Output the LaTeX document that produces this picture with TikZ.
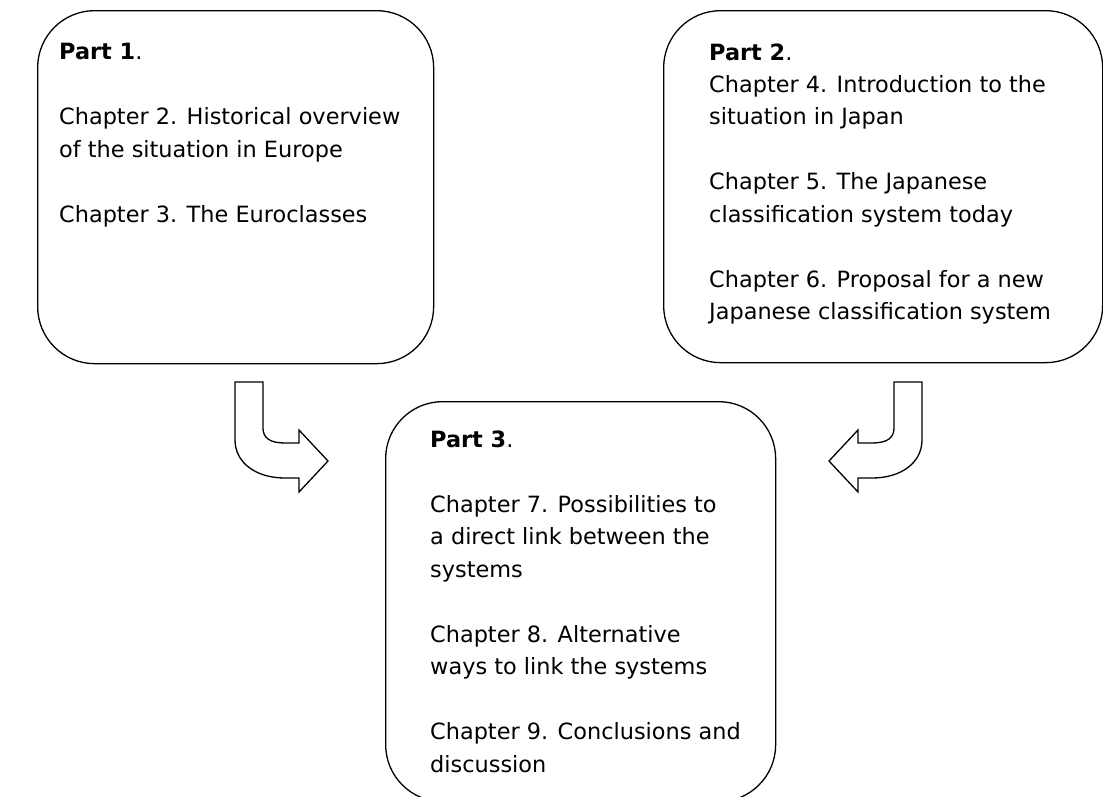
\documentclass[tikz,border=0pt]{standalone}
\usepackage{fontspec}
\setmainfont{DejaVu Sans}
\begin{document}
\begin{tikzpicture}[x=1pt,y=-1pt,
  box/.style={draw=black, line width=1.3pt, rounded corners=57pt, inner sep=0pt, anchor=north west},
  txt/.style={anchor=base west, inner sep=0pt, font=\fontsize{22.4}{26}\selectfont},
  uarrow/.style={draw=black, line width=1.3pt, line join=miter, fill=white}]
\useasboundingbox (0,0) rectangle (1103,796);
\clip (0,0) rectangle (1103,796);
% boxes
\node[box, minimum width=396pt, minimum height=353pt] (part1) at (37,10) {};
\node[box, minimum width=439pt, minimum height=352pt] (part2) at (663,10) {};
\node[box, minimum width=390pt, minimum height=400pt] (part3) at (385,401) {};
% box 1 text
\node[txt] (t1a) at (59,59) {\textbf{Part 1}.};
\node[txt] (t1b) at (59,124) {Chapter 2. Historical overview};
\node[txt] (t1c) at (59,157) {of the situation in Europe};
\node[txt] (t1d) at (59,222) {Chapter 3. The Euroclasses};
% box 2 text
\node[txt] (t2a) at (709,60) {\textbf{Part 2}.};
\node[txt] (t2b) at (709,92) {Chapter 4. Introduction to the};
\node[txt] (t2c) at (709,124) {situation in Japan};
\node[txt] (t2d) at (709,189) {Chapter 5. The Japanese};
\node[txt] (t2e) at (709,222) {classification system today};
\node[txt] (t2f) at (709,287) {Chapter 6. Proposal for a new};
\node[txt] (t2g) at (709,319) {Japanese classification system};
% box 3 text
\node[txt] (t3a) at (430,447) {\textbf{Part 3}.};
\node[txt] (t3b) at (430,512) {Chapter 7. Possibilities to};
\node[txt] (t3c) at (430,544) {a direct link between the};
\node[txt] (t3d) at (430,577) {systems};
\node[txt] (t3e) at (430,642) {Chapter 8. Alternative};
\node[txt] (t3f) at (430,674) {ways to link the systems};
\node[txt] (t3g) at (430,739) {Chapter 9. Conclusions and};
\node[txt] (t3h) at (430,772) {discussion};
% U-turn arrows
\draw[uarrow] (235,382) -- (263,382) -- (263,428)
  .. controls (263,438) and (270,443) .. (285,443) -- (299,443)
  -- (299,430) -- (328,461) -- (299,492) -- (299,478) -- (285,478)
  .. controls (255,478) and (235,462) .. (235,440) -- cycle;
\draw[uarrow] (922,382) -- (894,382) -- (894,428)
  .. controls (894,438) and (887,443) .. (872,443) -- (858,443)
  -- (858,430) -- (829,461) -- (858,492) -- (858,478) -- (872,478)
  .. controls (902,478) and (922,462) .. (922,440) -- cycle;
\end{tikzpicture}
\end{document}
